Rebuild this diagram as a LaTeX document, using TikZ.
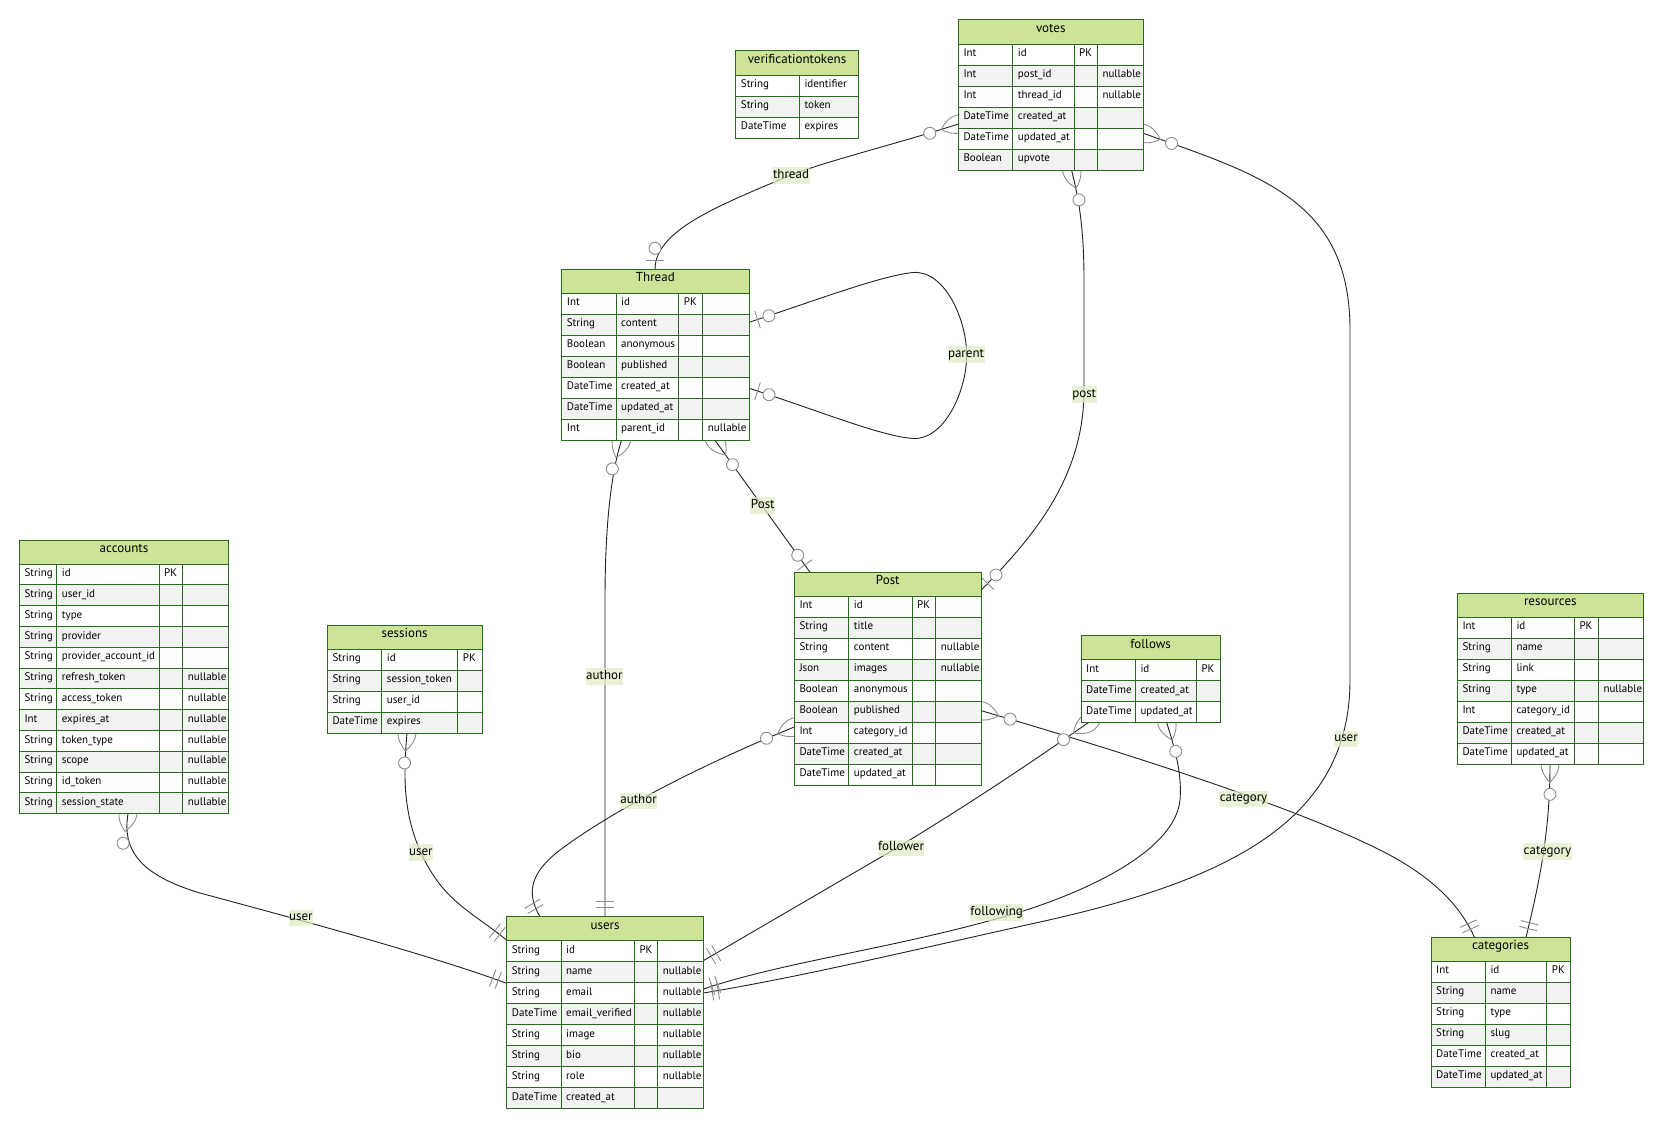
\documentclass[tikz,border=0pt]{standalone}
\usepackage{fontspec}
\setmainfont{PT Sans}
\usetikzlibrary{calc,fit}

\definecolor{headfill}{HTML}{CDE498}
\definecolor{framegreen}{HTML}{2A6A20}
\definecolor{rowgray}{HTML}{F2F2F2}
\definecolor{lblfill}{HTML}{E1EDC4}
\definecolor{mkgray}{HTML}{8C8C8C}
\definecolor{linecol}{HTML}{222222}

\tikzset{
  rel/.style={draw=linecol, line width=0.9pt},
  mk/.style={draw=mkgray, line width=0.9pt},
  gridline/.style={draw=framegreen, line width=0.85pt},
  tframe/.style={draw=framegreen, line width=1pt},
  tnode/.style={inner sep=0pt},
  headtext/.style={anchor=base, inner sep=0pt, font=\fontsize{13}{15}\selectfont},
  celltext/.style={anchor=base west, inner sep=0pt, font=\fontsize{11}{13}\selectfont},
  rlabel/.style={anchor=base, fill=lblfill, fill opacity=0.7, text opacity=1,
    inner xsep=0.5pt, inner ysep=0.5pt, text height=10.6pt, text depth=5pt,
    font=\fontsize{13}{15}\selectfont},
  % relationship end markers, drawn along +x (away from the entity)
  pics/zeroone/.style={code={
    \draw[mk] (9,-9) -- (9,9);
    \draw[mk, fill=white] (21,0) circle[radius=6];
  }},
  pics/onlyone/.style={code={
    \draw[mk] (9,-9) -- (9,9) (15,-9) -- (15,9);
  }},
  pics/zeromany/.style={code={
    \draw[mk] (-18,0) .. controls (-6,12) and (6,12) .. (18,0)
                      .. controls (6,-12) and (-6,-12) .. (-18,0);
    \draw[mk, fill=white] (30,0) circle[radius=6];
  }},
}

% marker #1 at end point #2, oriented towards point #3
\newcommand{\relmark}[3]{%
  \path let \p1=($(#3)-(#2)$), \n1={atan2(\y1,\x1)} in (#2) pic[rotate=\n1]{#1};}

% entity table: #1 name, #2 column left edges, #3 right edge, #4 top, #5 title, #6 rows
\def\erRH{21}
\newcommand{\ertable}[6]{%
  \pgfmathsetmacro\erL{{#2}[0]}%
  \pgfmathsetmacro\erHB{#4+24}%
  \fill[headfill] (\erL,#4) rectangle (#3,\erHB);
  \node[headtext] (#1-title) at ({(\erL+#3)/2},#4+12.5) {#5};
  \foreach \erRow [count=\i] in {#6} {
    \pgfmathsetmacro\erRT{\erHB+(\i-1)*\erRH}
    \ifodd\i\relax \def\erRF{white}\else \def\erRF{rowgray}\fi
    \fill[\erRF] (\erL,\erRT) rectangle (#3,\erRT+\erRH);
    \draw[gridline] (\erL,\erRT) -- (#3,\erRT);
    \foreach \erC [count=\k] in \erRow {
      \pgfmathsetmacro\erCX{{#2}[\k-1]}
      \node[celltext] (#1-\i-\k) at (\erCX+5,\erRT+12.6) {\erC};
    }
    \xdef\erN{\i}
  }
  \pgfmathsetmacro\erBT{\erHB+\erN*\erRH}%
  \foreach \x [count=\k] in {#2} {
    \ifnum\k>1 \draw[gridline] (\x,\erHB) -- (\x,\erBT); \fi
  }
  \draw[tframe] (\erL,#4) rectangle (#3,\erBT);
  \node[tnode, fit={(\erL,#4) (#3,\erBT)}] (#1) {};
}

\begin{document}
\begin{tikzpicture}[x=1pt,y=-1pt]
\useasboundingbox (0,0) rectangle (1664,1129);

% ---- connection points on the entity borders
\coordinate (votes-w)    at (958.3,124);
\coordinate (votes-s)    at (1071.7,170.7);
\coordinate (votes-e)    at (1143.3,133.3);
\coordinate (thread-n)   at (655,269.3);
\coordinate (thread-e1)  at (749,322.3);
\coordinate (thread-e2)  at (749,388.3);
\coordinate (thread-s1)  at (621.5,440.3);
\coordinate (thread-s2)  at (715,440.3);
\coordinate (post-n)     at (810,572.3);
\coordinate (post-ne)    at (981.3,590);
\coordinate (post-w)     at (794.3,727);
\coordinate (post-e)     at (981.3,710.7);
\coordinate (follows-s1) at (1088.3,722.7);
\coordinate (follows-s2) at (1166.7,722.7);
\coordinate (accounts-s) at (128,813.6);
\coordinate (sessions-s) at (407,733);
\coordinate (res-s)      at (1550,764.3);
\coordinate (users-n1)   at (605,916.7);
\coordinate (users-n2)   at (540,916.7);
\coordinate (users-w1)   at (506.7,940);
\coordinate (users-w2)   at (506.7,983.3);
\coordinate (users-e1)   at (703.3,960.7);
\coordinate (users-e2)   at (703.3,989);
\coordinate (users-e3)   at (703.3,993);
\coordinate (cat-n1)     at (1474.4,937.3);
\coordinate (cat-n2)     at (1526,937.3);

% ---- relationship lines
\draw[rel] (votes-w) .. controls (900,143) and (830,160) .. (791,175)
                     .. controls (720,205) and (655,230) .. (thread-n);
\draw[rel] (thread-e1) .. controls (820,299) and (880,276) .. (913,272.5)
                       .. controls (945,270) and (966.7,320) .. (966.7,355)
                       .. controls (966.7,390) and (945,440) .. (913,438.5)
                       .. controls (880,436) and (820,411) .. (thread-e2);
\draw[rel] (votes-s) .. controls (1078,196) and (1084,225) .. (1084,280)
                     -- (1084,390)
                     .. controls (1084,480) and (1030,540) .. (post-ne);
\draw[rel] (votes-e) .. controls (1260,175) and (1350,200) .. (1350,330)
                     -- (1350,680)
                     .. controls (1350,820) and (1230,880) .. (1040,922)
                     .. controls (900,953) and (800,977) .. (users-e3);
\draw[rel] (thread-s2) -- (post-n);
\draw[rel] (thread-s1) .. controls (612,470) and (605,520) .. (605,600) -- (users-n1);
\draw[rel] (post-w) .. controls (720,757) and (620,805) .. (560,850)
                    .. controls (530,873) and (526,893) .. (users-n2);
\draw[rel] (post-e) .. controls (1150,760) and (1300,810) .. (1380,850)
                    .. controls (1440,880) and (1463,912) .. (cat-n1);
\draw[rel] (follows-s1) .. controls (1060,742) and (1000,785) .. (900,846) -- (users-e1);
\draw[rel] (follows-s2) .. controls (1176,752) and (1182,775) .. (1180,800)
                        .. controls (1175,850) and (1090,890) .. (1020,912)
                        .. controls (900,948) and (790,960) .. (users-e2);
\draw[rel] (accounts-s) .. controls (122,850) and (140,875) .. (200,893)
                        .. controls (300,920) and (430,955) .. (users-w2);
\draw[rel] (sessions-s) .. controls (404,770) and (400,820) .. (430,870)
                        .. controls (450,903) and (471.7,912.5) .. (users-w1);
\draw[rel] (res-s) .. controls (1550,830) and (1540,880) .. (cat-n2);

% ---- cardinality markers
\relmark{zeromany}{votes-w}{900,143}
\relmark{zeroone}{thread-n}{655,230}
\relmark{zeroone}{thread-e1}{820,299}
\relmark{zeroone}{thread-e2}{820,411}
\relmark{zeromany}{votes-s}{1078,196}
\relmark{zeroone}{post-ne}{1030,540}
\relmark{zeromany}{votes-e}{1260,175}
\relmark{onlyone}{users-e3}{800,977}
\relmark{zeromany}{thread-s2}{post-n}
\relmark{zeroone}{post-n}{thread-s2}
\relmark{zeromany}{thread-s1}{612,470}
\relmark{onlyone}{users-n1}{605,600}
\relmark{zeromany}{post-w}{720,757}
\relmark{onlyone}{users-n2}{526,893}
\relmark{zeromany}{post-e}{1150,760}
\relmark{onlyone}{cat-n1}{1463,912}
\relmark{zeromany}{follows-s1}{1060,742}
\relmark{onlyone}{users-e1}{900,846}
\relmark{zeromany}{follows-s2}{1176,752}
\relmark{onlyone}{users-e2}{790,960}
\relmark{zeromany}{accounts-s}{122,850}
\relmark{onlyone}{users-w2}{430,955}
\relmark{zeromany}{sessions-s}{404,770}
\relmark{onlyone}{users-w1}{471.7,912.5}
\relmark{zeromany}{res-s}{1550,830}
\relmark{onlyone}{cat-n2}{1540,880}

% ---- relationship labels
\node[rlabel] (lbl-thread)    at (791,178.3)    {thread};
\node[rlabel] (lbl-parent)    at (966,357)      {parent};
\node[rlabel] (lbl-post)      at (1084.2,397)   {post};
\node[rlabel] (lbl-vuser)     at (1346,741.7)   {user};
\node[rlabel] (lbl-Post)      at (762.8,508)    {Post};
\node[rlabel] (lbl-tauthor)   at (604.4,679)    {author};
\node[rlabel] (lbl-pauthor)   at (638.5,803.7)  {author};
\node[rlabel] (lbl-pcat)      at (1243.5,801.7) {category};
\node[rlabel] (lbl-follower)  at (901,850.7)    {follower};
\node[rlabel] (lbl-following) at (996.6,915)    {following};
\node[rlabel] (lbl-auser)     at (300.8,920.7)  {user};
\node[rlabel] (lbl-suser)     at (420.8,855)    {user};
\node[rlabel] (lbl-rcat)      at (1547.4,854)   {category};

% ---- entities
\ertable{verificationtokens}{735.7,799.3}{858.3}{51}{verificationtokens}
  {{String,identifier},{String,token},{DateTime,expires}}

\ertable{votes}{958.3,1012.7,1074,1097.3}{1143.3}{20}{votes}
  {{Int,id,PK,{}},{Int,post\_id,{},nullable},{Int,thread\_id,{},nullable},
   {DateTime,created\_at,{},{}},{DateTime,updated\_at,{},{}},{Boolean,upvote,{},{}}}

\ertable{Thread}{561.7,616,678.7,702.7}{749}{269.3}{Thread}
  {{Int,id,PK,{}},{String,content,{},{}},{Boolean,anonymous,{},{}},
   {Boolean,published,{},{}},{DateTime,created\_at,{},{}},
   {DateTime,updated\_at,{},{}},{Int,parent\_id,{},nullable}}

\def\erRH{20.8}
\ertable{accounts}{19.3,56.7,159,182.7}{228.7}{540}{accounts}
  {{String,id,PK,{}},{String,user\_id,{},{}},{String,type,{},{}},
   {String,provider,{},{}},{String,provider\_account\_id,{},{}},
   {String,refresh\_token,{},nullable},{String,access\_token,{},nullable},
   {Int,expires\_at,{},nullable},{String,token\_type,{},nullable},
   {String,scope,{},nullable},{String,id\_token,{},nullable},
   {String,session\_state,{},nullable}}
\def\erRH{21}

\ertable{sessions}{327.3,381.7,457.7}{482}{625}{sessions}
  {{String,id,PK},{String,session\_token,{}},{String,user\_id,{}},{DateTime,expires,{}}}

\ertable{Post}{794.3,848.7,912,935.7}{981.3}{572.3}{Post}
  {{Int,id,PK,{}},{String,title,{},{}},{String,content,{},nullable},
   {Json,images,{},nullable},{Boolean,anonymous,{},{}},{Boolean,published,{},{}},
   {Int,category\_id,{},{}},{DateTime,created\_at,{},{}},{DateTime,updated\_at,{},{}}}

\ertable{follows}{1081,1135.3,1196.3}{1220.3}{635.7}{follows}
  {{Int,id,PK},{DateTime,created\_at,{}},{DateTime,updated\_at,{}}}

\ertable{users}{506.7,561,634.3,657.7}{703.3}{916.7}{users}
  {{String,id,PK,{}},{String,name,{},nullable},{String,email,{},nullable},
   {DateTime,email\_verified,{},nullable},{String,image,{},nullable},
   {String,bio,{},nullable},{String,role,{},nullable},{DateTime,created\_at,{},{}}}

\ertable{resources}{1457.3,1511.3,1574.3,1598.3}{1643.3}{593.3}{resources}
  {{Int,id,PK,{}},{String,name,{},{}},{String,link,{},{}},{String,type,{},nullable},
   {Int,category\_id,{},{}},{DateTime,created\_at,{},{}},{DateTime,updated\_at,{},{}}}

\ertable{categories}{1431,1485.3,1546.7}{1570}{937.3}{categories}
  {{Int,id,PK},{String,name,{}},{String,type,{}},{String,slug,{}},
   {DateTime,created\_at,{}},{DateTime,updated\_at,{}}}

\end{tikzpicture}
\end{document}
